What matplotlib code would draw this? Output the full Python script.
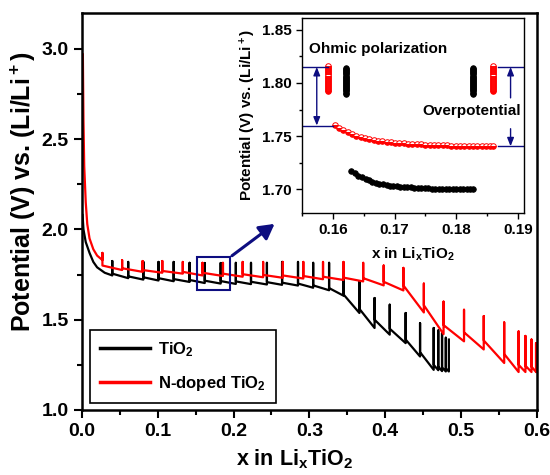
import matplotlib
matplotlib.use("Agg")
import matplotlib.pyplot as plt
from matplotlib.patches import Rectangle
from matplotlib.ticker import MultipleLocator

plt.rcParams['font.family'] = ['Liberation Sans', 'DejaVu Sans']
plt.rcParams['font.weight'] = 'bold'
plt.rcParams['mathtext.fontset'] = 'custom'
plt.rcParams['mathtext.rm'] = 'Liberation Sans:bold'
plt.rcParams['mathtext.it'] = 'Liberation Sans:bold'
plt.rcParams['mathtext.bf'] = 'Liberation Sans:bold'

NAVY = '#0d0d80'

# ---- main GITT curves: initial drop, then one spike per relaxation ----
black_start_x = [0.0008, 0.002, 0.005, 0.010, 0.015, 0.020, 0.030]
black_start_v = [2.08, 2.00, 1.93, 1.87, 1.82, 1.79, 1.76]
black_x = [0.040, 0.061, 0.081, 0.101, 0.121, 0.142, 0.162, 0.183, 0.203, 0.223, 0.244, 0.264, 0.285,
           0.305, 0.326, 0.345, 0.366, 0.386, 0.406, 0.427, 0.446, 0.464, 0.470, 0.475, 0.480, 0.484]
black_low = [1.745, 1.730, 1.722, 1.717, 1.713, 1.709, 1.703, 1.700, 1.698, 1.697, 1.695, 1.693, 1.689,
             1.677, 1.663, 1.633, 1.537, 1.454, 1.417, 1.370, 1.296, 1.222, 1.220, 1.215, 1.213, 1.213]
black_top = [1.825, 1.820, 1.820, 1.820, 1.820, 1.815, 1.814, 1.814, 1.815, 1.815, 1.815, 1.820, 1.820,
             1.815, 1.815, 1.810, 1.713, 1.620, 1.583, 1.537, 1.481, 1.454, 1.440, 1.426, 1.400, 1.390]
black_after = [1.755, 1.740, 1.735, 1.730, 1.725, 1.720, 1.716, 1.714, 1.712, 1.710, 1.708, 1.705, 1.700,
               1.690, 1.675, 1.640, 1.560, 1.500, 1.450, 1.390, 1.320, 1.250, 1.240, 1.235, 1.230]

red_start_x = [0.0012, 0.002, 0.003, 0.005, 0.007, 0.010, 0.015, 0.020]
red_start_v = [2.97, 2.60, 2.35, 2.15, 2.03, 1.95, 1.89, 1.855]
red_x = [0.027, 0.053, 0.080, 0.106, 0.133, 0.159, 0.186, 0.212, 0.239, 0.265, 0.292, 0.318, 0.345,
         0.371, 0.398, 0.424, 0.451, 0.477, 0.504, 0.530, 0.557, 0.576, 0.585, 0.593, 0.599]
red_low = [1.830, 1.775, 1.765, 1.760, 1.755, 1.745, 1.742, 1.738, 1.735, 1.732, 1.728, 1.724, 1.720,
           1.712, 1.690, 1.662, 1.540, 1.420, 1.380, 1.335, 1.260, 1.210, 1.210, 1.210, 1.210]
red_top = [1.870, 1.830, 1.825, 1.825, 1.820, 1.815, 1.815, 1.820, 1.820, 1.820, 1.820, 1.820, 1.820,
           1.815, 1.800, 1.787, 1.700, 1.600, 1.555, 1.520, 1.485, 1.435, 1.410, 1.390, 1.370]
red_after = [1.800, 1.785, 1.775, 1.770, 1.765, 1.760, 1.755, 1.752, 1.748, 1.745, 1.742, 1.738, 1.733,
             1.730, 1.710, 1.690, 1.580, 1.470, 1.430, 1.385, 1.310, 1.250, 1.245, 1.240, 1.235]
red_end_x = [0.600]
red_end_v = [1.210]

# ---- inset data ----
red_in_x = [0.1603, 0.1610, 0.1617, 0.1624, 0.1631, 0.1638, 0.1645, 0.1652, 0.1659, 0.1666, 0.1673,
            0.1680, 0.1687, 0.1694, 0.1701, 0.1708, 0.1715, 0.1722, 0.1729, 0.1736, 0.1743, 0.1750,
            0.1757, 0.1764, 0.1771, 0.1778, 0.1785, 0.1792, 0.1799, 0.1806, 0.1813, 0.1820, 0.1827,
            0.1834, 0.1841, 0.1848, 0.1855, 0.1860]
red_in_v = [1.7608, 1.7580, 1.7555, 1.7535, 1.7518, 1.7503, 1.7490, 1.7480, 1.7471, 1.7463, 1.7457,
            1.7451, 1.7446, 1.7442, 1.7438, 1.7435, 1.7432, 1.7429, 1.7427, 1.7425, 1.7423, 1.7421,
            1.7419, 1.7417, 1.7416, 1.7414, 1.7413, 1.7412, 1.7411, 1.7410, 1.7409, 1.7408, 1.7407,
            1.7406, 1.7405, 1.7405, 1.7404, 1.7404]
black_in_x = [0.1630, 0.1636, 0.1641, 0.1647, 0.1653, 0.1658, 0.1664, 0.1670, 0.1675, 0.1681, 0.1687,
              0.1692, 0.1698, 0.1704, 0.1709, 0.1715, 0.1721, 0.1726, 0.1732, 0.1738, 0.1743, 0.1749,
              0.1755, 0.1760, 0.1766, 0.1772, 0.1777, 0.1783, 0.1789, 0.1794, 0.1800, 0.1806, 0.1811,
              0.1817, 0.1823, 0.1827]
black_in_v = [1.7173, 1.7150, 1.7130, 1.7112, 1.7097, 1.7084, 1.7072, 1.7062, 1.7054, 1.7047, 1.7041,
              1.7036, 1.7032, 1.7028, 1.7025, 1.7022, 1.7020, 1.7018, 1.7016, 1.7014, 1.7012, 1.7011,
              1.7010, 1.7008, 1.7007, 1.7006, 1.7005, 1.7004, 1.7003, 1.7002, 1.7002, 1.7001, 1.7001,
              1.7000, 1.7000, 1.7000]
# relaxation columns (x does not change while the cell rests)
red_bar_x = [0.1593, 0.1860]
red_bar_v = [1.792, 1.793, 1.794, 1.795, 1.796, 1.797, 1.798, 1.799, 1.800, 1.801, 1.802, 1.803, 1.804,
             1.805, 1.806, 1.807, 1.808, 1.809, 1.810, 1.811, 1.812, 1.813, 1.814, 1.815, 1.8155]
black_bar_x = [0.1622, 0.1827]
black_bar_v = [1.790, 1.791, 1.792, 1.793, 1.794, 1.795, 1.796, 1.797, 1.798, 1.799, 1.800, 1.801,
               1.802, 1.803, 1.804, 1.805, 1.806, 1.807, 1.808, 1.809, 1.810, 1.811, 1.812, 1.813, 1.814]


def gitt_path(start_x, start_v, sx, low, top, after, end_x=(), end_v=()):
    xs, vs = list(start_x), list(start_v)
    for i in range(len(sx)):
        xs += [sx[i], sx[i]]
        vs += [low[i], top[i]]
        if i < len(after):
            xs.append(sx[i])
            vs.append(after[i])
    return xs + list(end_x), vs + list(end_v)


fig = plt.figure(figsize=(5.5, 4.75), dpi=100)
ax = fig.add_axes([0.149, 0.137, 0.827, 0.836])

bx, bv = gitt_path(black_start_x, black_start_v, black_x, black_low, black_top, black_after)
rx, rv = gitt_path(red_start_x, red_start_v, red_x, red_low, red_top, red_after, red_end_x, red_end_v)
ax.plot(bx, bv, color='black', lw=1.6, label='TiO$_2$')
ax.plot(rx, rv, color='#ff0000', lw=1.6, label='N-doped TiO$_2$')

ax.set_xlim(0, 0.6)
ax.set_ylim(1.0, 3.2)
ax.xaxis.set_major_locator(MultipleLocator(0.1))
ax.xaxis.set_minor_locator(MultipleLocator(0.05))
ax.yaxis.set_major_locator(MultipleLocator(0.5))
ax.yaxis.set_minor_locator(MultipleLocator(0.25))
ax.tick_params(which='major', direction='out', length=6, width=1.5, labelsize=14)
ax.tick_params(which='minor', direction='out', length=3.5, width=1.5)
for s in ax.spines.values():
    s.set_linewidth(1.8)
ax.set_xlabel('x in Li$_x$TiO$_2$', fontsize=15.5, fontweight='bold')
ax.set_ylabel('Potential (V) vs. (Li/Li$^+$)', fontsize=18, fontweight='bold')
ax.xaxis.set_label_coords(0.468, -0.095)
ax.yaxis.set_label_coords(-0.097, 0.55)

ax.add_patch(Rectangle((0.152, 1.665), 0.043, 0.185, fill=False, edgecolor=NAVY, lw=1.5, zorder=5))
ax.annotate('', xy=(0.257, 2.04), xytext=(0.195, 1.845),
            arrowprops=dict(arrowstyle='-|>,head_length=0.9,head_width=0.5', color=NAVY, lw=2.2))

leg = ax.legend(loc='lower left', bbox_to_anchor=(0.018, 0.018), borderaxespad=0, fontsize=12,
                handlelength=3.0, handletextpad=0.5, labelspacing=0.9, borderpad=0.6,
                fancybox=False, framealpha=1, edgecolor='black')
leg.get_frame().set_linewidth(1.2)
for line in leg.get_lines():
    line.set_linewidth(2.5)

# ---- inset ----
axi = fig.add_axes([0.549, 0.552, 0.404, 0.41])
axi.plot(black_in_x, black_in_v, 'o', color='black', ms=4, mew=0.6)
for x in black_bar_x:
    axi.plot([x] * len(black_bar_v), black_bar_v, 'o', color='black', ms=4, mew=0.6)
axi.plot(red_in_x, red_in_v, 'o', ms=4, mew=0.7, color='#ff0000', fillstyle='bottom',
         markerfacecoloralt='white')
for x in red_bar_x:
    axi.plot([x] * len(red_bar_v), red_bar_v, 'o', ms=4, mew=0.7, color='#ff0000', fillstyle='bottom',
             markerfacecoloralt='white')

axi.set_xlim(0.155, 0.191)
axi.set_ylim(1.678, 1.861)
axi.xaxis.set_major_locator(MultipleLocator(0.01))
axi.xaxis.set_minor_locator(MultipleLocator(0.005))
axi.yaxis.set_major_locator(MultipleLocator(0.05))
axi.yaxis.set_minor_locator(MultipleLocator(0.025))
axi.tick_params(which='major', direction='out', length=4, width=1, labelsize=11)
axi.tick_params(which='minor', direction='out', length=2.5, width=1)
for s in axi.spines.values():
    s.set_linewidth(1.0)
axi.set_xlabel('x in Li$_x$TiO$_2$', fontsize=11, fontweight='bold', labelpad=6)
axi.set_ylabel('Potential (V) vs. (Li/Li$^+$)', fontsize=11, fontweight='bold', labelpad=3)

# ohmic polarization marker (left)
axi.plot([0.155, 0.1593], [1.815, 1.815], color=NAVY, lw=1)
axi.plot([0.155, 0.1600], [1.760, 1.760], color=NAVY, lw=1)
axi.annotate('', xy=(0.1574, 1.760), xytext=(0.1574, 1.815),
             arrowprops=dict(arrowstyle='<|-|>,head_length=0.5,head_width=0.2', color=NAVY, lw=1,
                             shrinkA=0, shrinkB=0))
# overpotential marker (right)
axi.plot([0.1868, 0.191], [1.815, 1.815], color=NAVY, lw=1)
axi.plot([0.1868, 0.191], [1.7405, 1.7405], color=NAVY, lw=1)
axi.annotate('', xy=(0.1888, 1.815), xytext=(0.1888, 1.786),
             arrowprops=dict(arrowstyle='-|>,head_length=0.5,head_width=0.2', color=NAVY, lw=1,
                             shrinkA=0, shrinkB=0))
axi.annotate('', xy=(0.1888, 1.7405), xytext=(0.1888, 1.757),
             arrowprops=dict(arrowstyle='-|>,head_length=0.5,head_width=0.2', color=NAVY, lw=1,
                             shrinkA=0, shrinkB=0))
axi.text(0.1562, 1.8316, 'Ohmic polarization', fontsize=11, fontweight='bold', va='center', ha='left')
axi.text(0.1905, 1.7738, 'Overpotential', fontsize=11, fontweight='bold', va='center', ha='right')

fig.savefig('out.png', dpi=100)
